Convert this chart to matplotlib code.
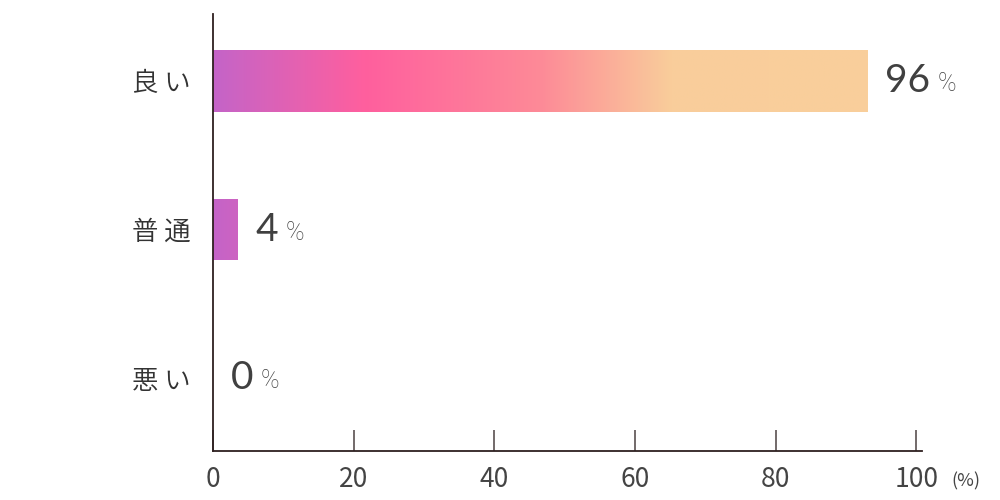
import numpy as np
import matplotlib.pyplot as plt
from matplotlib.colors import LinearSegmentedColormap

# data
categories = ["良い", "普通", "悪い"]
bar_lengths = [93.0, 3.5, 0.0]      # drawn length of each bar
value_labels = ["96", "4", "0"]     # printed value next to each bar
x_ticks = [0, 20, 40, 60, 80, 100]

# gradient for the bars: purple -> pink -> peach
grad = LinearSegmentedColormap.from_list(
    "bar_grad",
    [(0.0, "#c464c8"), (0.23, "#ff5f9e"), (0.5, "#fd8a97"),
     (0.70, "#f9cd9b"), (1.0, "#f9cf9b")]
)

plt.rcParams["font.family"] = ["Noto Sans CJK JP", "DejaVu Sans"]

fig = plt.figure(figsize=(10, 5), dpi=100)
ax = fig.add_axes([0.213, 0.098, 0.709, 0.874])

y_pos = np.arange(len(categories))
bar_h = 0.415
grad_end = max(bar_lengths)
gradient = np.linspace(0, 1, 256).reshape(1, -1)

for y, length in zip(y_pos, bar_lengths):
    if length <= 0:
        continue
    bar = ax.barh(y, length, height=bar_h, color="none", edgecolor="none")[0]
    im = ax.imshow(gradient, cmap=grad, aspect="auto",
                   extent=(0, grad_end, y + bar_h / 2, y - bar_h / 2),
                   zorder=1)
    im.set_clip_path(bar)

# value labels: large number + small percent sign
for y, length, lab in zip(y_pos, bar_lengths, value_labels):
    t = ax.annotate(lab, (length, y), xytext=(13, 0), textcoords="offset points",
                    ha="left", va="center", fontsize=28, color="#404040",
                    family=["Lato", "DejaVu Sans"])
    ax.annotate("%", xy=(1, 0), xycoords=t, xytext=(5, 2),
                textcoords="offset points", ha="left", va="bottom",
                fontsize=18, color="#444444",
                family=["Roboto", "DejaVu Sans"], fontweight="light")

ax.set_xlim(0, 100.8)
ax.set_ylim(2.49, -0.45)
ax.set_yticks(y_pos)
# tick labels are drawn letter-spaced, as in the original
ax.set_yticklabels([" ".join(c) for c in categories], fontsize=19,
                   color="#333333", fontweight=350)
ax.tick_params(axis="y", length=0, pad=16)

ax.set_xticks(x_ticks)
ax.set_xticklabels([str(v) for v in x_ticks], fontsize=19, color="#444444")
ax.tick_params(axis="x", direction="in", length=15, width=1.2,
               color="#5a5050", pad=11)

for side in ["top", "right"]:
    ax.spines[side].set_visible(False)
for side in ["left", "bottom"]:
    ax.spines[side].set_color("#2e2020")
    ax.spines[side].set_linewidth(1.3)

fig.text(0.951, 0.038, "(%)", fontsize=13, color="#444444", ha="left", va="center")

fig.savefig("out.png", dpi=100)
